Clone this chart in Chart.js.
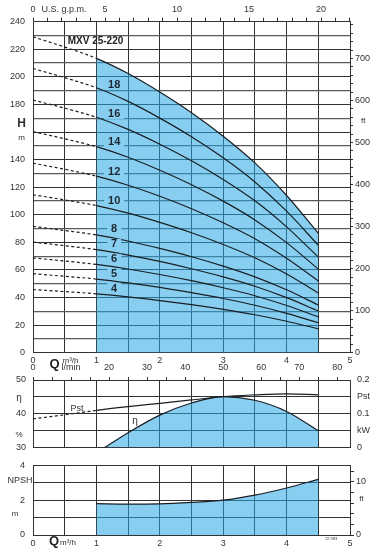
<!DOCTYPE html>
<html>
<head>
<meta charset="utf-8">
<script src="https://cdn.jsdelivr.net/npm/chart.js@4.4.1/dist/chart.umd.min.js"></script>
<style>
  html, body { margin: 0; padding: 0; background: #fff; width: 376px; height: 553px; overflow: hidden; }
  canvas { position: absolute; left: 0; }
</style>
</head>
<body>
<canvas id="head" width="376" height="372" style="top:0"></canvas>
<canvas id="eff" width="376" height="98" style="top:362px"></canvas>
<canvas id="npsh" width="376" height="101" style="top:452px"></canvas>
<script>
// flow points (m3/h) for the head curves
const qPoints = [0, 0.5, 1, 1.5, 2, 2.5, 3, 3.5, 4, 4.5];

// head (m) per number of stages
const headMax = [229, 221.6, 213.4, 202.4, 189, 174, 157, 137.6, 114, 86.6];
const head18 = [206.1, 199.4, 192.1, 182.2, 170.1, 156.6, 141.3, 123.8, 102.6, 77.9];
const head16 = [183.2, 177.3, 170.7, 161.9, 151.2, 139.2, 125.6, 110.1, 91.2, 69.3];
const head14 = [160.3, 155.1, 149.4, 141.7, 132.3, 121.8, 109.9, 96.3, 79.8, 60.6];
const head12 = [137.4, 133.0, 128.0, 121.4, 113.4, 104.4, 94.2, 82.6, 68.4, 52.0];
const head10 = [114.5, 110.8, 106.7, 101.2, 94.5, 87.0, 78.5, 68.8, 57.0, 43.3];
const head8 = [91.6, 88.6, 85.4, 81.0, 75.6, 69.6, 62.8, 55.0, 45.6, 34.6];
const head7 = [80.2, 77.6, 74.7, 70.8, 66.2, 60.9, 55.0, 48.2, 39.9, 30.3];
const head6 = [68.7, 66.5, 64.0, 60.7, 56.7, 52.2, 47.1, 41.3, 34.2, 26.0];
const head5 = [57.3, 55.4, 53.4, 50.6, 47.3, 43.5, 39.3, 34.4, 28.5, 21.7];
const head4 = [45.8, 44.3, 42.7, 40.5, 37.8, 34.8, 31.4, 27.5, 22.8, 17.3];

const stageLabels = ['18', '16', '14', '12', '10', '8', '7', '6', '5', '4'];
const stageLabelH = [194.8, 173.1, 152.9, 131.1, 110.1, 89.8, 78.9, 68.1, 57.1, 46.9];
const stageLabelQ = 1.28;

// efficiency (%) and power (kW)
const effQ = [1.13, 1.5, 2, 2.5, 3, 3.5, 4, 4.5];
const effVal = [30, 34.4, 39.6, 43.2, 45.1, 44.0, 40.7, 35.0];
const pstVal = [0.085, 0.097, 0.110, 0.121, 0.131, 0.141, 0.151, 0.156, 0.159, 0.156];

// NPSH (m)
const npshQ = [1, 1.5, 2, 2.5, 3, 3.5, 4, 4.5];
const npshVal = [1.80, 1.78, 1.79, 1.87, 2.0, 2.29, 2.7, 3.2];

Chart.defaults.font.family = '"Liberation Sans", Arial, sans-serif';
Chart.defaults.font.size = 9;
Chart.defaults.color = '#333';
Chart.defaults.animation = false;

const FILL = 'rgba(37,166,228,0.55)';
const LABEL_BG = 'rgb(135,206,240)';
const LINE = '#1a1f24';
const GRID = '#333';
const FONT = '"Liberation Sans", Arial, sans-serif';

const pts = (xs, ys) => xs.map((x, i) => ({ x: x, y: ys[i] }));
const dashToOne = { borderDash: c => (c.p1.parsed.x <= 1 ? [3, 2.5] : undefined) };
const fixW = w => s => { s.width = w; };
const fixH = h => s => { s.height = h; };

function curve(data, extra) {
  return Object.assign({
    data: data, borderColor: LINE, borderWidth: 1.2, pointRadius: 0,
    fill: false, cubicInterpolationMode: 'monotone', segment: dashToOne
  }, extra || {});
}

function text(ctx, s, x, y, font, align) {
  ctx.font = font;
  ctx.textAlign = align || 'center';
  ctx.textBaseline = 'middle';
  ctx.fillText(s, x, y);
}

// ---------- head chart ----------
const headCurves = [head18, head16, head14, head12, head10, head8, head7, head6, head5, head4];

const headText = {
  id: 'headText',
  afterDatasetsDraw(chart) {
    const { ctx, scales: { x, y } } = chart;
    ctx.save();
    ctx.font = 'bold 11px ' + FONT;
    stageLabels.forEach((s, i) => {
      const px = x.getPixelForValue(stageLabelQ);
      const py = y.getPixelForValue(stageLabelH[i]);
      const w = ctx.measureText(s).width + 8;
      ctx.fillStyle = LABEL_BG;
      ctx.fillRect(px - w / 2, py - 5, w, 10);
      ctx.fillStyle = '#1c2833';
      text(ctx, s, px, py + 0.5, 'bold 11px ' + FONT);
    });
    ctx.fillStyle = '#222';
    text(ctx, 'MXV 25-220', 95.5, 41.7, 'bold 10px ' + FONT);
    ctx.fillStyle = '#333';
    text(ctx, 'H', 21.7, 123.5, 'bold 12px ' + FONT);
    text(ctx, 'm', 21.7, 137.7, '8px ' + FONT);
    text(ctx, 'ft', 363.3, 120.7, '8px ' + FONT);
    text(ctx, 'U.S. g.p.m.', 64, 9.5, '9px ' + FONT);
    ctx.fillStyle = '#222';
    text(ctx, 'Q', 54.5, 364.5, 'bold 13px ' + FONT);
    ctx.fillStyle = '#333';
    text(ctx, 'm\u00b3/h', 70.5, 360.5, '8px ' + FONT);
    ctx.restore();
  }
};

new Chart(document.getElementById('head'), {
  type: 'line',
  data: {
    datasets: [
      curve(pts(qPoints, headMax))
    ].concat(headCurves.map(h => curve(pts(qPoints, h))))
      .concat([{
        data: pts(qPoints.slice(2), headMax.slice(2)),
        borderWidth: 0, pointRadius: 0, fill: 'origin',
        backgroundColor: FILL, cubicInterpolationMode: 'monotone'
      }])
  },
  options: {
    responsive: false,
    layout: { padding: 0 },
    plugins: { legend: { display: false }, tooltip: { enabled: false } },
    scales: {
      x: {
        type: 'linear', position: 'bottom', min: 0, max: 5,
        ticks: { stepSize: 0.5, padding: 2, maxRotation: 0, autoSkip: false,
          callback: v => (Number.isInteger(v) ? v : '') },
        grid: { color: GRID, drawTicks: false },
        border: { color: GRID },
        afterFit: fixH(19.3)
      },
      gpm: {
        type: 'linear', position: 'top', min: 0, max: 22.01,
        ticks: { stepSize: 1, includeBounds: false, padding: 3, maxRotation: 0, autoSkip: false,
          callback: v => (v % 5 === 0 && v > 0 ? v : (v === 0 ? '0' : '')) },
        grid: { drawOnChartArea: false, tickLength: 4, color: GRID },
        border: { color: GRID },
        afterFit: fixH(21.7)
      },
      y: {
        min: 0, max: 240,
        ticks: { stepSize: 10, padding: 8, autoSkip: false,
          callback: v => (v % 20 === 0 && v !== 160 ? v : '') },
        grid: { drawTicks: false, color: c => (c.tick && c.tick.value % 20 ? '#5a5a5a' : GRID),
          lineWidth: c => (c.tick && c.tick.value % 20 ? 1.3 : 1) },
        border: { color: GRID },
        afterFit: fixW(33)
      },
      ft: {
        position: 'right', min: 0, max: 787.4,
        ticks: { stepSize: 20, includeBounds: false, padding: 2, autoSkip: false,
          callback: v => (v % 100 === 0 ? v : '') },
        grid: { drawOnChartArea: false, tickLength: 3, color: GRID },
        border: { color: GRID },
        afterFit: fixW(26)
      }
    }
  },
  plugins: [headText]
});

// ---------- efficiency / power chart ----------
const effText = {
  id: 'effText',
  afterDatasetsDraw(chart) {
    const { ctx } = chart;
    ctx.save();
    ctx.fillStyle = '#333';
    text(ctx, '\u03b7', 19, 36.5, '10px ' + FONT);
    text(ctx, '%', 19, 72.5, '8px ' + FONT);
    text(ctx, 'Pst', 77, 47, '9px ' + FONT);
    text(ctx, '\u03b7', 135, 59.7, '10px ' + FONT);
    ctx.restore();
  }
};

new Chart(document.getElementById('eff'), {
  type: 'line',
  data: {
    datasets: [
      curve(pts(qPoints, pstVal), { yAxisID: 'kw' }),
      curve(pts(effQ, effVal), { yAxisID: 'y', fill: 'start', backgroundColor: FILL, segment: {} })
    ]
  },
  options: {
    responsive: false,
    layout: { padding: 0 },
    plugins: { legend: { display: false }, tooltip: { enabled: false } },
    scales: {
      x: {
        type: 'linear', position: 'bottom', min: 0, max: 5,
        ticks: { stepSize: 0.5, display: false },
        grid: { color: GRID, drawTicks: false },
        border: { color: GRID },
        afterFit: fixH(7.7)
      },
      lmin: {
        type: 'linear', position: 'top', min: 0, max: 83.33,
        ticks: { stepSize: 5, includeBounds: false, padding: 4, maxRotation: 0, autoSkip: false,
          callback: v => (v === 10 ? 'l/min' : (v % 10 === 0 ? v : '')) },
        grid: { drawOnChartArea: false, tickLength: 3, color: GRID },
        border: { color: GRID },
        afterFit: fixH(18)
      },
      y: {
        min: 30, max: 50,
        ticks: { stepSize: 5, padding: 7, autoSkip: false,
          callback: v => (v % 10 === 0 ? v : '') },
        grid: { drawTicks: false, color: GRID },
        border: { color: GRID },
        afterFit: fixW(33)
      },
      kw: {
        position: 'right', min: 0, max: 0.2,
        ticks: { stepSize: 0.05, padding: 7, autoSkip: false,
          callback: v => ({ 0: '0', 5: 'kW', 10: '0.1', 15: 'Pst', 20: '0.2' })[Math.round(v * 100)] },
        grid: { drawOnChartArea: false, drawTicks: false, color: GRID },
        border: { color: GRID },
        afterFit: fixW(26)
      }
    }
  },
  plugins: [effText]
});

// ---------- NPSH chart ----------
const npshText = {
  id: 'npshText',
  afterDatasetsDraw(chart) {
    const { ctx } = chart;
    ctx.save();
    ctx.fillStyle = '#333';
    text(ctx, 'NPSH', 32.5, 28.5, '9px ' + FONT, 'right');
    text(ctx, 'm', 15, 61.5, '8px ' + FONT);
    text(ctx, 'ft', 361.5, 46.5, '8px ' + FONT);
    ctx.fillStyle = '#222';
    text(ctx, 'Q', 54, 89.5, 'bold 13px ' + FONT);
    ctx.fillStyle = '#333';
    text(ctx, 'm\u00b3/h', 68, 90.5, '8px ' + FONT);
    text(ctx, '72.983', 331, 87, '4px ' + FONT);
    ctx.restore();
  }
};

new Chart(document.getElementById('npsh'), {
  type: 'line',
  data: {
    datasets: [
      curve(pts(npshQ, npshVal), { fill: 'origin', backgroundColor: FILL, segment: {} })
    ]
  },
  options: {
    responsive: false,
    layout: { padding: { top: 10.3 } },
    plugins: { legend: { display: false }, tooltip: { enabled: false } },
    scales: {
      x: {
        type: 'linear', position: 'bottom', min: 0, max: 5,
        ticks: { stepSize: 0.5, padding: 3, maxRotation: 0, autoSkip: false,
          callback: v => (Number.isInteger(v) ? v : '') },
        grid: { color: GRID, drawTicks: false },
        border: { color: GRID },
        afterFit: fixH(18)
      },
      y: {
        min: 0, max: 4,
        ticks: { stepSize: 1, padding: 8, autoSkip: false,
          callback: v => (v % 2 === 0 ? v : '') },
        grid: { drawTicks: false, color: GRID },
        border: { color: GRID },
        afterFit: fixW(33)
      },
      ft: {
        position: 'right', min: 0, max: 13.12,
        ticks: { stepSize: 2, includeBounds: false, padding: 2, autoSkip: false,
          callback: v => (v === 0 || v === 10 ? v : '') },
        grid: { drawOnChartArea: false, tickLength: 4, color: GRID },
        border: { color: GRID },
        afterFit: fixW(26)
      }
    }
  },
  plugins: [npshText]
});
</script>
</body>
</html>
